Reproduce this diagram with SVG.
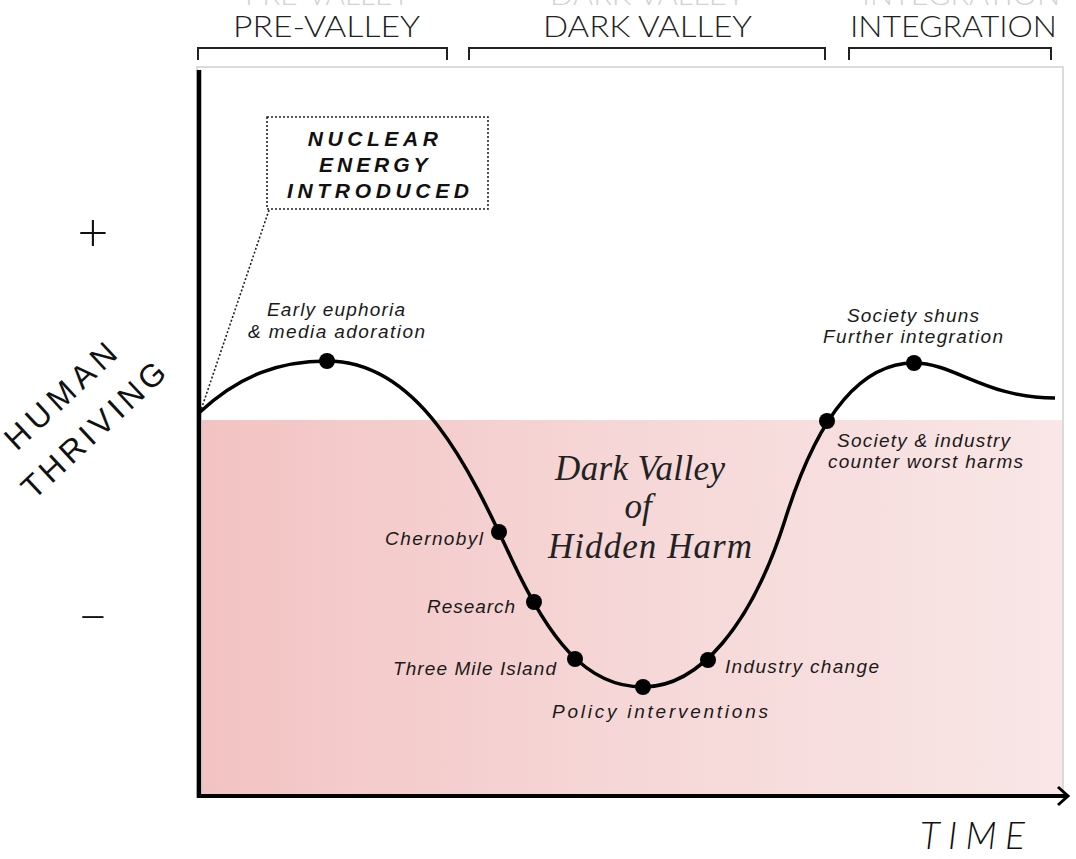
<svg xmlns="http://www.w3.org/2000/svg" width="1076" height="859" viewBox="0 0 1076 859">
<defs>
<linearGradient id="pink" x1="0" y1="0" x2="1" y2="0">
<stop offset="0" stop-color="#f3c3c3"/>
<stop offset="0.5" stop-color="#f6d7d7"/>
<stop offset="1" stop-color="#f9e6e6"/>
</linearGradient>
<style>
.phase{font-family:Lato,"Liberation Sans",Arial,sans-serif;font-weight:300;font-size:29px;fill:#222;}
.ghost{font-family:Lato,"Liberation Sans",Arial,sans-serif;font-weight:300;font-size:29px;fill:#d2d2d2;}
.brk{fill:none;stroke:#222;stroke-width:2;}
.lbl{font-family:"Liberation Sans",Arial,sans-serif;font-size:19px;font-style:italic;fill:#1a1a1a;}
.axis{font-family:"Liberation Sans",Arial,sans-serif;font-size:32px;fill:#111;}
.dot{fill:#000;}
.serif{font-family:"Liberation Serif","Times New Roman",serif;font-style:italic;font-size:35px;fill:#222;}
.sign{font-family:Lato,"Liberation Sans",sans-serif;font-weight:300;font-size:54px;fill:#111;}
</style>
</defs>
<rect x="0" y="0" width="1076" height="859" fill="#fff"/>

<g id="ghost-labels">
<text class="ghost" x="245" y="5" textLength="165" lengthAdjust="spacingAndGlyphs">PRE-VALLEY</text>
<text class="ghost" x="550" y="5" textLength="195" lengthAdjust="spacingAndGlyphs">DARK VALLEY</text>
<text class="ghost" x="862" y="5" textLength="198" lengthAdjust="spacingAndGlyphs">INTEGRATION</text>
</g>

<g id="phase-pre-valley">
<text class="phase" x="233" y="37" textLength="187" lengthAdjust="spacingAndGlyphs">PRE-VALLEY</text>
<path class="brk" d="M198,60 V48 H447 V60"/>
</g>
<g id="phase-dark-valley">
<text class="phase" x="543" y="37" textLength="209" lengthAdjust="spacingAndGlyphs">DARK VALLEY</text>
<path class="brk" d="M469,60 V48 H825 V60"/>
</g>
<g id="phase-integration">
<text class="phase" x="850" y="37" textLength="207" lengthAdjust="spacingAndGlyphs">INTEGRATION</text>
<path class="brk" d="M849,60 V48 H1051 V60"/>
</g>

<g id="chart-area">
<rect x="197" y="67" width="866" height="729" fill="none" stroke="#cfcfcf" stroke-width="1.5"/>
<rect id="dark-valley-zone" x="202" y="420" width="860" height="375" fill="url(#pink)"/>
</g>

<g id="valley-title">
<text class="serif" x="555" y="480" textLength="170">Dark Valley</text>
<text class="serif" x="638" y="518" text-anchor="middle">of</text>
<text class="serif" x="548" y="558" textLength="204">Hidden Harm</text>
</g>

<g id="axes">
<line x1="199" y1="70" x2="199" y2="798" stroke="#000" stroke-width="4.5"/>
<line x1="197" y1="796" x2="1067" y2="796" stroke="#000" stroke-width="4"/>
<path d="M1058,787 L1068,796 L1058,805" fill="none" stroke="#000" stroke-width="3"/>
</g>

<g id="connectors">
<line x1="269" y1="210" x2="201" y2="410" stroke="#222" stroke-width="1.6" stroke-dasharray="2,2"/>
<path d="M200,412 C240,375 280,361 327,361 C420,361 470,470 512,560 C548,637 585,687 643,687 C700,687 752,624 785,520 C809,443 848,363 914,363 C955,363 985,398 1055,398" fill="none" stroke="#000" stroke-width="3.5"/>
</g>

<g id="y-axis-label">
<text class="axis" x="68" y="404" text-anchor="middle" textLength="140" transform="rotate(-43 68 404)">HUMAN</text>
<text class="axis" x="101" y="438" text-anchor="middle" textLength="184" transform="rotate(-43 101 438)">THRIVING</text>
<text class="sign" x="93" y="251" text-anchor="middle">+</text>
<text class="sign" x="93" y="633" text-anchor="middle">–</text>
</g>

<g id="x-axis-label">
<text x="920" y="849" font-family="Lato,'Liberation Sans',sans-serif" font-weight="300" font-style="italic" font-size="37" fill="#111" textLength="105">TIME</text>
</g>

<g id="node-nuclear">
<rect x="267" y="117" width="221" height="92" fill="#fff" stroke="#222" stroke-width="1.6" stroke-dasharray="2,2"/>
<text font-family="'Liberation Sans',Arial,sans-serif" font-weight="bold" font-style="italic" font-size="21" fill="#111" text-anchor="middle">
<tspan x="378" y="146" textLength="130">NUCLEAR</tspan>
<tspan x="378" y="172" textLength="108">ENERGY</tspan>
<tspan x="378" y="198" textLength="182">INTRODUCED</tspan>
</text>
</g>

<g id="node-early-euphoria">
<circle class="dot" cx="327" cy="361" r="8"/>
<text class="lbl" x="267" y="316" textLength="138">Early euphoria</text>
<text class="lbl" x="248" y="338" textLength="177">&amp; media adoration</text>
</g>
<g id="node-chernobyl">
<circle class="dot" cx="499" cy="532" r="8"/>
<text class="lbl" x="385" y="545" textLength="98">Chernobyl</text>
</g>
<g id="node-research">
<circle class="dot" cx="534" cy="602" r="8"/>
<text class="lbl" x="427" y="613" textLength="88">Research</text>
</g>
<g id="node-three-mile">
<circle class="dot" cx="575" cy="659" r="8"/>
<text class="lbl" x="393" y="675" textLength="163">Three Mile Island</text>
</g>
<g id="node-policy">
<circle class="dot" cx="643" cy="687" r="8"/>
<text class="lbl" x="552" y="718" textLength="216">Policy interventions</text>
</g>
<g id="node-industry-change">
<circle class="dot" cx="708" cy="660" r="8"/>
<text class="lbl" x="725" y="673" textLength="154">Industry change</text>
</g>
<g id="node-society-counter">
<circle class="dot" cx="827" cy="421" r="8"/>
<text class="lbl" x="837" y="447" textLength="173">Society &amp; industry</text>
<text class="lbl" x="828" y="468" textLength="195">counter worst harms</text>
</g>
<g id="node-society-shuns">
<circle class="dot" cx="914" cy="363" r="8"/>
<text class="lbl" x="847" y="322" textLength="132">Society shuns</text>
<text class="lbl" x="823" y="343" textLength="180">Further integration</text>
</g>
</svg>
